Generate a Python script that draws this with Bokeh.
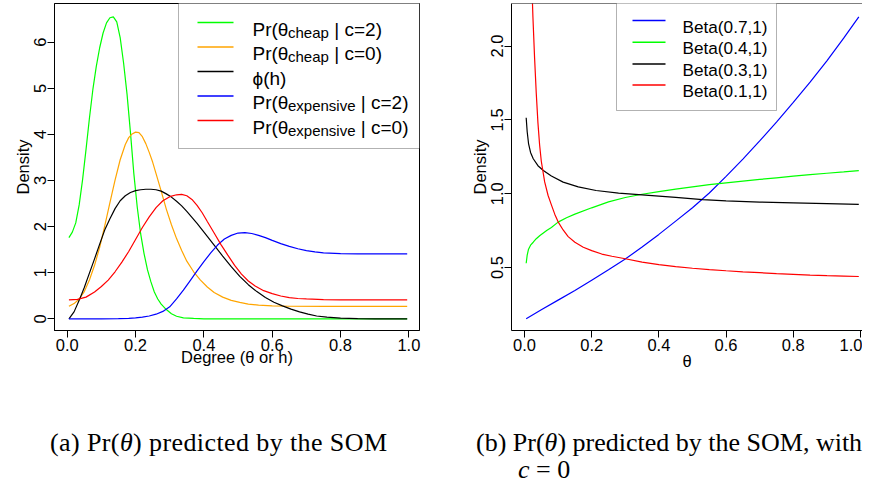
from bokeh.plotting import figure
from bokeh.models import (Range1d, FixedTicker, NumeralTickFormatter, Label,
                          BoxAnnotation, Arrow, Span, Div)
from bokeh.layouts import row, column
from bokeh.embed import file_html
from bokeh.resources import INLINE

# ---------------- data: panel (a) ----------------
green_x = [0.005, 0.015, 0.025, 0.035, 0.045, 0.055, 0.065, 0.075, 0.085, 0.095, 0.105,
           0.115, 0.125, 0.135, 0.145, 0.155, 0.165, 0.175, 0.185, 0.195, 0.205, 0.215,
           0.225, 0.235, 0.245, 0.255, 0.265, 0.275, 0.29, 0.305, 0.32, 0.34, 0.37, 0.40,
           0.50, 0.60, 0.70, 0.80, 0.90, 0.995]
green_y = [1.76, 1.88, 2.08, 2.47, 3.02, 3.67, 4.35, 4.97, 5.47, 5.88, 6.20,
           6.42, 6.53, 6.55, 6.44, 6.10, 5.55, 4.88, 4.05, 3.15, 2.42, 1.84,
           1.41, 1.06, 0.80, 0.58, 0.43, 0.32, 0.20, 0.11, 0.055, 0.02, 0.008, 0.0,
           0.0, 0.0, 0.0, 0.0, 0.0, 0.0]

orange_x = [0.005, 0.02, 0.035, 0.05, 0.065, 0.08, 0.095, 0.11, 0.125, 0.14, 0.155, 0.17,
            0.18, 0.19, 0.20, 0.21, 0.22, 0.23, 0.24, 0.25, 0.26, 0.275, 0.29, 0.305,
            0.32, 0.335, 0.35, 0.37, 0.39, 0.41, 0.43, 0.455, 0.48, 0.505, 0.53, 0.56,
            0.60, 0.65, 0.75, 0.85, 0.995]
orange_y = [0.27, 0.33, 0.43, 0.59, 0.84, 1.16, 1.55, 2.02, 2.52, 3.01, 3.45, 3.78,
            3.93, 4.01, 4.05, 4.04, 3.95, 3.80, 3.61, 3.40, 3.15, 2.77, 2.38, 2.04,
            1.74, 1.48, 1.25, 1.02, 0.84, 0.69, 0.57, 0.47, 0.40, 0.355, 0.32, 0.295,
            0.28, 0.272, 0.27, 0.27, 0.27]

black_x = [0.005, 0.02, 0.035, 0.05, 0.065, 0.08, 0.095, 0.11, 0.125, 0.14, 0.155, 0.17,
           0.185, 0.20, 0.215, 0.23, 0.245, 0.26, 0.275, 0.29, 0.305, 0.32, 0.335, 0.35,
           0.365, 0.38, 0.395, 0.41, 0.43, 0.455, 0.48, 0.505, 0.53, 0.555, 0.58, 0.605,
           0.63, 0.655, 0.68, 0.705, 0.73, 0.76, 0.80, 0.85, 0.90, 0.995]
black_y = [0.0, 0.15, 0.40, 0.68, 0.99, 1.30, 1.62, 1.93, 2.17, 2.39, 2.56, 2.67,
           2.74, 2.78, 2.80, 2.81, 2.81, 2.80, 2.77, 2.71, 2.64, 2.55, 2.45, 2.33,
           2.20, 2.07, 1.93, 1.79, 1.60, 1.36, 1.13, 0.92, 0.74, 0.59, 0.46, 0.36,
           0.28, 0.21, 0.15, 0.10, 0.06, 0.035, 0.015, 0.004, 0.0, 0.0]

blue_x = [0.005, 0.10, 0.15, 0.18, 0.20, 0.22, 0.24, 0.26, 0.28, 0.30, 0.32, 0.34, 0.36,
          0.38, 0.40, 0.42, 0.44, 0.46, 0.48, 0.50, 0.52, 0.54, 0.56, 0.58, 0.60, 0.625,
          0.65, 0.675, 0.70, 0.725, 0.75, 0.80, 0.85, 0.995]
blue_y = [0.0, 0.0, 0.004, 0.01, 0.02, 0.035, 0.06, 0.10, 0.16, 0.26, 0.43, 0.62, 0.83,
          1.04, 1.24, 1.43, 1.60, 1.73, 1.81, 1.86, 1.87, 1.85, 1.81, 1.76, 1.70, 1.63,
          1.57, 1.52, 1.48, 1.45, 1.43, 1.415, 1.41, 1.41]

red_x = [0.005, 0.03, 0.055, 0.08, 0.10, 0.12, 0.14, 0.16, 0.18, 0.20, 0.22, 0.24, 0.26,
         0.28, 0.30, 0.32, 0.335, 0.35, 0.365, 0.38, 0.395, 0.41, 0.43, 0.45, 0.47, 0.49,
         0.51, 0.53, 0.55, 0.575, 0.60, 0.625, 0.65, 0.675, 0.70, 0.75, 0.80, 0.995]
red_y = [0.41, 0.42, 0.47, 0.58, 0.70, 0.84, 1.02, 1.23, 1.46, 1.72, 1.98, 2.21, 2.41,
         2.56, 2.65, 2.69, 2.70, 2.67, 2.59, 2.46, 2.30, 2.11, 1.86, 1.61, 1.38, 1.16,
         0.97, 0.82, 0.71, 0.61, 0.545, 0.495, 0.46, 0.44, 0.43, 0.415, 0.41, 0.41]

a_series = [
    (green_x, green_y, "#00FF00"),
    (orange_x, orange_y, "#FFA500"),
    (black_x, black_y, "#000000"),
    (blue_x, blue_y, "#0000FF"),
    (red_x, red_y, "#FF0000"),
]
# legend entries: (main text, subscript, rest, colour)
a_legend = [
    ("Pr(\u03b8", "cheap", "| c=2)", "#00FF00"),
    ("Pr(\u03b8", "cheap", "| c=0)", "#FFA500"),
    ("\u03d5(h)", "", "", "#000000"),
    ("Pr(\u03b8", "expensive", "| c=2)", "#0000FF"),
    ("Pr(\u03b8", "expensive", "| c=0)", "#FF0000"),
]
a_xticks = [0.0, 0.2, 0.4, 0.6, 0.8, 1.0]
a_yticks = [0, 1, 2, 3, 4, 5, 6]

# ---------------- data: panel (b) ----------------
b07_x = [0.005, 0.05, 0.10, 0.15, 0.20, 0.25, 0.30, 0.35, 0.40, 0.45, 0.50, 0.55,
         0.60, 0.65, 0.70, 0.75, 0.80, 0.85, 0.90, 0.95, 0.995]
b07_y = [0.154, 0.215, 0.28, 0.345, 0.415, 0.485, 0.558, 0.64, 0.725, 0.815, 0.905, 1.005,
         1.118, 1.235, 1.358, 1.485, 1.618, 1.755, 1.90, 2.053, 2.197]

b04_x = [0.005, 0.008, 0.012, 0.018, 0.026, 0.035, 0.046, 0.066, 0.08, 0.10, 0.125, 0.15,
         0.20, 0.25, 0.30, 0.35, 0.40, 0.45, 0.50, 0.55, 0.60, 0.65, 0.70, 0.75, 0.80,
         0.85, 0.90, 0.95, 0.995]
b04_y = [0.53, 0.585, 0.625, 0.652, 0.672, 0.696, 0.718, 0.752, 0.772, 0.808, 0.838, 0.862,
         0.905, 0.945, 0.975, 0.997, 1.015, 1.032, 1.047, 1.062, 1.074, 1.086, 1.097, 1.108,
         1.119, 1.13, 1.139, 1.148, 1.157]

b03_x = [0.005, 0.008, 0.012, 0.018, 0.026, 0.04, 0.056, 0.08, 0.115, 0.16, 0.213, 0.28,
         0.37, 0.45, 0.53, 0.60, 0.70, 0.80, 0.90, 0.995]
b03_y = [1.515, 1.42, 1.34, 1.28, 1.237, 1.19, 1.158, 1.12, 1.079, 1.047, 1.022, 1.005,
         0.989, 0.975, 0.961, 0.952, 0.944, 0.938, 0.933, 0.928]

b01_x = [0.005, 0.01, 0.015, 0.02, 0.025, 0.03, 0.035, 0.04, 0.045, 0.05, 0.06, 0.07,
         0.08, 0.09, 0.10, 0.115, 0.13, 0.15, 0.175, 0.20, 0.23, 0.26, 0.30, 0.35, 0.40,
         0.45, 0.50, 0.55, 0.60, 0.65, 0.70, 0.75, 0.80, 0.85, 0.90, 0.95, 0.995]
b01_y = [4.5, 3.7, 2.95, 2.55, 2.2, 1.92, 1.68, 1.48, 1.33, 1.22, 1.08, 0.99,
         0.925, 0.862, 0.81, 0.755, 0.71, 0.672, 0.638, 0.615, 0.592, 0.577, 0.56, 0.537,
         0.52, 0.507, 0.496, 0.487, 0.479, 0.472, 0.466, 0.46, 0.455, 0.45, 0.446, 0.443,
         0.44]

b_series = [
    (b07_x, b07_y, "#0000FF"),
    (b04_x, b04_y, "#00FF00"),
    (b03_x, b03_y, "#000000"),
    (b01_x, b01_y, "#FF0000"),
]
b_legend = [("Beta(0.7,1)", "#0000FF"), ("Beta(0.4,1)", "#00FF00"),
            ("Beta(0.3,1)", "#000000"), ("Beta(0.1,1)", "#FF0000")]
b_xticks = [0.0, 0.2, 0.4, 0.6, 0.8, 1.0]
b_yticks = [0.5, 1.0, 1.5, 2.0]

FONT = "Liberation Sans"
LW = 1.2
LEG_DY = 5  # vertical correction for legend labels/lines


def style_axes(p, xfmt, yfmt, xticks, yticks, xlabel, ylabel, xstand):
    p.xgrid.visible = False
    p.ygrid.visible = False
    p.background_fill_color = "white"
    p.border_fill_color = "white"
    p.xaxis.ticker = FixedTicker(ticks=xticks)
    p.yaxis.ticker = FixedTicker(ticks=yticks)
    p.xaxis.formatter = NumeralTickFormatter(format=xfmt)
    p.yaxis.formatter = NumeralTickFormatter(format=yfmt)
    p.xaxis.axis_label = xlabel
    p.yaxis.axis_label = ylabel
    for ax in (p.xaxis[0], p.yaxis[0]):
        ax.axis_line_color = "black"
        ax.axis_line_width = 1
        ax.major_tick_line_color = "black"
        ax.major_tick_line_width = 1
        ax.minor_tick_line_color = None
        ax.major_tick_in = 0
        ax.major_tick_out = 7
        ax.major_label_text_font = FONT
        ax.major_label_text_font_size = "16.5px"
        ax.major_label_text_color = "black"
        ax.major_label_standoff = 1
        ax.axis_label_text_font = FONT
        ax.axis_label_text_font_size = "16.5px"
        ax.axis_label_text_font_style = "normal"
        ax.axis_label_text_color = "black"
        ax.axis_label_standoff = 0
    p.xaxis.axis_label_standoff = xstand
    p.yaxis.major_label_orientation = "vertical"


def legend_label(p, x, y, text, size):
    p.add_layout(Label(x=x, y=y + LEG_DY, x_units="screen", y_units="screen", text=text,
                       text_font=FONT, text_font_size=size, text_color="black",
                       text_baseline="alphabetic", text_align="left"))


def legend_line(p, x0, x1, y, c):
    p.add_layout(Arrow(end=None, x_start=x0, y_start=y + LEG_DY, x_end=x1, y_end=y + LEG_DY,
                       start_units="screen", end_units="screen",
                       line_color=c, line_width=1.4))


# ---------------- panel (a) ----------------
pa = figure(width=440, height=380, output_backend="svg", toolbar_location=None,
            x_range=Range1d(-0.0372, 1.031), y_range=Range1d(-0.254, 6.84),
            min_border_left=54, min_border_right=21, min_border_top=3, min_border_bottom=50)
pa.outline_line_color = "black"
pa.outline_line_width = 1
style_axes(pa, "0.0", "0", a_xticks, a_yticks, "Degree (\u03b8 or h)", "Density", -6)
for xs, ys, c in a_series:
    pa.line(xs, ys, line_color=c, line_width=LW)

pa.add_layout(BoxAnnotation(left=124, right=365, bottom=182, top=328,
                            left_units="screen", right_units="screen",
                            bottom_units="screen", top_units="screen",
                            fill_color="white", fill_alpha=1.0,
                            line_color="black", line_width=1))
row_y = [303, 278.5, 254, 229.5, 205]
for (main, sub, rest, c), ry in zip(a_legend, row_y):
    legend_line(pa, 143, 179, ry, c)
    legend_label(pa, 198, ry - 6.5, main, "19px")
    if sub:
        sub_w = 41 if sub == "cheap" else 67.5
        legend_label(pa, 198 + 35.5, ry - 9.5, sub, "15px")
        legend_label(pa, 198 + 35.5 + sub_w + 5.3, ry - 6.5, rest, "19px")

# ---------------- panel (b) ----------------
pb = figure(width=422, height=380, output_backend="svg", toolbar_location=None,
            x_range=Range1d(-0.0387, 1.006), y_range=Range1d(0.0745, 2.288),
            min_border_left=71, min_border_right=0, min_border_top=3, min_border_bottom=50)
pb.outline_line_color = None
style_axes(pb, "0.0", "0.0", b_xticks, b_yticks, "\u03b8", "Density", -2)
for xs, ys, c in b_series:
    pb.line(xs, ys, line_color=c, line_width=LW)
pb.add_layout(Span(location=2.288, dimension="width", line_color="black", line_width=1))

pb.add_layout(BoxAnnotation(left=105, right=265, bottom=220, top=328,
                            left_units="screen", right_units="screen",
                            bottom_units="screen", top_units="screen",
                            fill_color="white", fill_alpha=1.0,
                            line_color="black", line_width=1))
brow_y = [305, 283.3, 261.5, 240.5]
for (txt, c), ry in zip(b_legend, brow_y):
    legend_line(pb, 121, 154, ry, c)
    legend_label(pb, 171, ry - 6, txt, "17.2px")

# ---------------- captions ----------------
cap_style = ("font-family:'Liberation Serif';font-size:26px;line-height:27px;"
             "color:black;white-space:nowrap;")
div_a = Div(text=('<div style="%spadding-top:49px;padding-left:50px;letter-spacing:0.4px;">'
                  '(a) Pr(<i>\u03b8</i>) predicted by the SOM</div>') % cap_style,
            width=440, height=101, margin=0)
div_b = Div(text=('<div style="%spadding-top:49px;">'
                  '<div style="padding-left:36px;">(b) Pr(<i>\u03b8</i>) predicted by the SOM, with</div>'
                  '<div style="padding-left:78px;"><i>c</i> = 0</div></div>') % cap_style,
            width=422, height=101, margin=0)

layout = column(row(pa, pb, spacing=0), row(div_a, div_b, spacing=0), spacing=0)
open("out.html", "w").write(file_html(layout, INLINE))
